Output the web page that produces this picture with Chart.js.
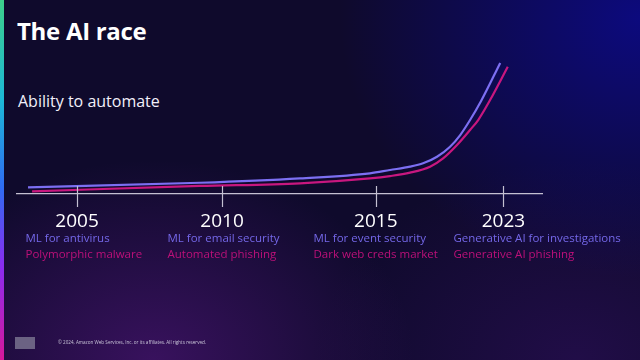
<!DOCTYPE html>
<html>
<head>
<meta charset="utf-8">
<script src="https://cdn.jsdelivr.net/npm/chart.js@4"></script>
<style>
    html, body {
        margin: 0;
        width: 640px;
        height: 360px;
        overflow: hidden;
    }
    body {
        position: relative;
        font-family: "Open Sans", "Noto Sans", sans-serif;
        background:
            radial-gradient(ellipse 260px 200px at 24% 100%, rgba(70, 20, 110, 0.75), rgba(70, 20, 110, 0) 100%),
            radial-gradient(ellipse 300px 260px at 100% 5%, rgba(12, 10, 130, 0.95), rgba(12, 10, 130, 0) 100%),
            radial-gradient(ellipse 260px 200px at 90% 100%, rgba(45, 15, 90, 0.6), rgba(45, 15, 90, 0) 100%),
            #0f0a2c;
    }
    .stripe {
        position: absolute;
        left: 0; top: 0;
        width: 4px; height: 360px;
        background: linear-gradient(to bottom, #3dcf8a 0%, #1db8d8 28%, #2f6cf2 52%, #8a2cf0 74%, #d6189a 100%);
    }
    .title {
        position: absolute;
        left: 17px; top: 14px;
        color: #fff;
        font-size: 24px;
        font-weight: 700;
        letter-spacing: -0.3px;
    }
    .subtitle {
        position: absolute;
        left: 18px; top: 90px;
        color: #f2f0fa;
        font-size: 16px;
    }
    .logo {
        position: absolute;
        left: 15px; top: 337px;
        width: 20px; height: 12px;
        background: #6b6283;
    }
    .legal {
        position: absolute;
        left: 58px; top: 339px;
        color: #c9c4d8;
        font-size: 4.6px;
    }
    #chart {
        position: absolute;
        left: 0; top: 0;
    }
</style>
</head>
<body>
<div class="stripe"></div>
<div class="title">The AI race</div>
<div class="subtitle">Ability to automate</div>
<canvas id="chart" width="640" height="360"></canvas>
<div class="logo"></div>
<div class="legal">© 2024, Amazon Web Services, Inc. or its affiliates. All rights reserved.</div>

<script>
// Milestones on the slide timeline (spacing on the slide is not proportional to years)
const years = ['2005', '2010', '2015', '2023'];
const milestonePos = [5, 10, 15.3, 19.7];
const defenderNotes = ['ML for antivirus', 'ML for email security', 'ML for event security', 'Generative AI for investigations'];
const attackerNotes = ['Polymorphic malware', 'Automated phishing', 'Dark web creds market', 'Generative AI phishing'];

// Ability to automate
const defenderX = [3.31, 9.24, 12.69, 15.10, 15.79, 16.48, 16.93, 17.41, 17.86, 18.21, 18.55, 18.93, 19.59];
const defenderY = [5.0, 8.4, 11.7, 15.4, 17.9, 20.4, 22.9, 27.8, 35.3, 44.0, 55.2, 69.4, 97.8];
const attackerX = [3.45, 9.24, 12.69, 15.10, 15.79, 16.48, 17.17, 17.62, 18.10, 18.55, 18.83, 19.24, 19.85];
const attackerY = [2.0, 6.0, 8.0, 11.7, 13.4, 15.9, 20.4, 26.6, 36.6, 47.8, 55.2, 70.1, 95.0];

const blueLine = '#7c6ff2';
const pinkLine = '#c8177f';
const blueText = '#7467e8';
const pinkText = '#bd1079';

// where each note column starts, relative to its tick
const noteShift = [-52, -55, -63, -50];

const toPoints = (xs, ys) => xs.map((x, i) => ({ x: x, y: ys[i] }));

// tick marks cross the axis, and two lines of notes under each year
const timelinePlugin = {
    id: 'timeline',
    afterDraw(chart) {
        const ctx = chart.ctx;
        const xs = chart.scales.x;
        const axisY = chart.chartArea.bottom;
        ctx.save();
        ctx.strokeStyle = '#c4c0d2';
        ctx.lineWidth = 1.2;
        milestonePos.forEach((pos, i) => {
            const px = Math.round(xs.getPixelForValue(pos)) + 0.5;
            ctx.beginPath();
            ctx.moveTo(px, axisY - 8);
            ctx.lineTo(px, axisY + 13);
            ctx.stroke();

            ctx.textAlign = 'left';
            ctx.textBaseline = 'middle';
            ctx.font = '11.5px "Open Sans", "Noto Sans", sans-serif';
            ctx.fillStyle = blueText;
            ctx.fillText(defenderNotes[i], px + noteShift[i], axisY + 45);
            ctx.fillStyle = pinkText;
            ctx.fillText(attackerNotes[i], px + noteShift[i], axisY + 61);
        });
        ctx.restore();
    }
};

new Chart(document.getElementById('chart'), {
    type: 'line',
    data: {
        datasets: [
            {
                label: 'Defenders',
                data: toPoints(defenderX, defenderY),
                borderColor: blueLine,
                borderWidth: 2.2,
                pointRadius: 0,
                cubicInterpolationMode: 'monotone'
            },
            {
                label: 'Attackers',
                data: toPoints(attackerX, attackerY),
                borderColor: pinkLine,
                borderWidth: 2.2,
                pointRadius: 0,
                cubicInterpolationMode: 'monotone'
            }
        ]
    },
    options: {
        responsive: false,
        animation: false,
        layout: {
            padding: { left: 17, right: 98, top: 60, bottom: 0 }
        },
        plugins: {
            legend: { display: false },
            tooltip: { enabled: false }
        },
        scales: {
            x: {
                type: 'linear',
                min: 2.93,
                max: 21.03,
                afterBuildTicks(scale) {
                    scale.ticks = milestonePos.map(v => ({ value: v }));
                },
                afterFit(scale) {
                    scale.height = 166;
                },
                grid: {
                    drawOnChartArea: false,
                    color: 'rgba(0,0,0,0)',
                    tickLength: 13
                },
                border: { color: '#c4c0d2', width: 1.2 },
                ticks: {
                    autoSkip: false,
                    maxRotation: 0,
                    padding: 3,
                    color: '#ffffff',
                    font: { family: '"Open Sans", "Noto Sans", sans-serif', size: 19 },
                    callback: (value) => {
                        const i = milestonePos.indexOf(value);
                        return i >= 0 ? years[i] : '';
                    }
                }
            },
            y: {
                display: false,
                min: 0,
                max: 100
            }
        }
    },
    plugins: [timelinePlugin]
});
</script>
</body>
</html>
